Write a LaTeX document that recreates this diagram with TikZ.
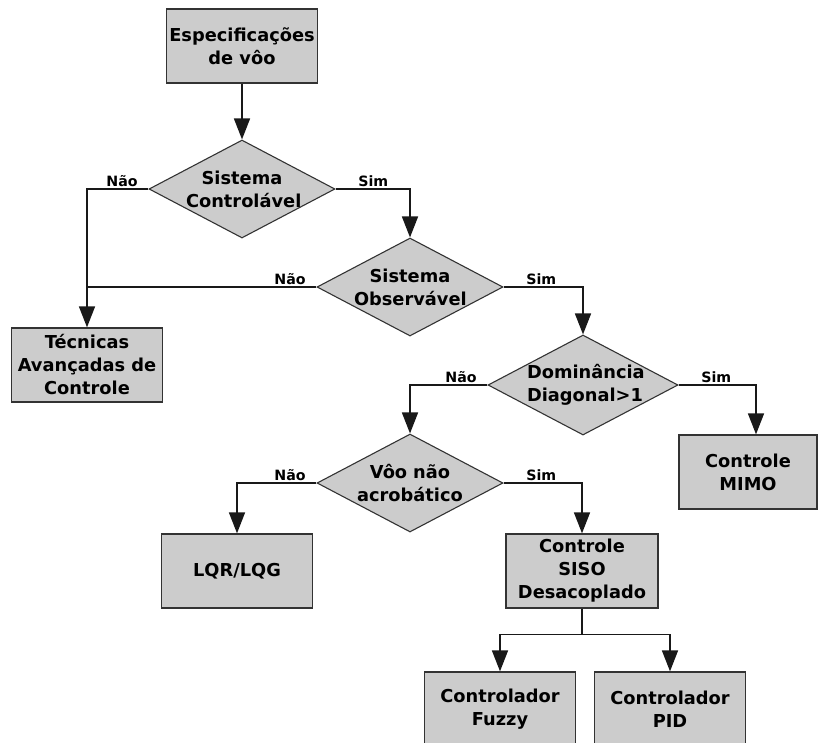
\documentclass[tikz,border=0pt]{standalone}
\usepackage{fontspec}
\setmainfont{DejaVu Sans}
\usetikzlibrary{shapes.geometric, arrows.meta, positioning}
\definecolor{boxgray}{RGB}{204,204,204}
\definecolor{edgegray}{RGB}{51,51,51}

\tikzset{
  block/.style={draw=edgegray, fill=boxgray, line width=1.3pt, rectangle,
    minimum width=151pt, minimum height=74pt, align=center, inner sep=2pt,
    font=\fontsize{17.8}{23}\selectfont\bfseries},
  decision/.style={draw=edgegray, fill=boxgray, line width=1.1pt, diamond,
    aspect=1.9, inner sep=0pt, text width=112pt, minimum width=186pt,
    minimum height=98pt, align=center,
    font=\fontsize{17.8}{23}\selectfont\bfseries},
  wire/.style={line width=1.6pt, draw=black!90},
  arr/.style={wire, -{Triangle[length=21pt,width=16pt]}},
  lbl/.style={font=\fontsize{14.2}{16}\selectfont\bfseries, inner sep=2pt},
  nao/.style={lbl, above left, xshift=-8pt},
  sim/.style={lbl, above right, xshift=20pt},
}

\begin{document}
\begin{tikzpicture}[x=1pt, y=-1pt]
  \useasboundingbox (0,0) rectangle (819,742);
  \clip (0,0) rectangle (819,742);

  % blocos
  \node[block] (esp) at (242,46) {Especificações\\de vôo};
  \node[block] (tec) at (87,365) {Técnicas\\Avançadas de\\Controle};
  \node[block, minimum width=138pt] (mimo) at (748,472) {Controle\\MIMO};
  \node[block] (lqr) at (237,571) {LQR/LQG};
  \node[block, minimum width=152pt] (siso) at (582,571) {Controle\\SISO\\Desacoplado};
  \node[block] (fuzzy) at (500,709) {Controlador\\Fuzzy};
  \node[block] (pid) at (670,709) {Controlador\\PID};

  % decisoes
  \node[decision] (ctrl) at (242,189) {Sistema\\Controlável};
  \node[decision] (obs) at (410,287) {Sistema\\Observável};
  \node[decision] (dom) at (583,385) {Dominância\\Diagonal>1};
  \node[decision] (acro) at (410,483) {Vôo não\\acrobático};

  % ligacoes
  \draw[arr] (esp) -- (ctrl);
  \draw[arr] (ctrl.west) node[nao] {Não} -| (tec.north);
  \draw[arr] (ctrl.east) node[sim] {Sim} -| (obs.north);
  \draw[wire] (obs.west) node[nao] {Não} -- (obs.west -| tec.north);
  \draw[arr] (obs.east) node[sim] {Sim} -| (dom.north);
  \draw[arr] (dom.west) node[nao] {Não} -| (acro.north);
  \draw[arr] (dom.east) node[sim] {Sim} -| ([xshift=8pt]mimo.north);
  \draw[arr] (acro.west) node[nao] {Não} -| (lqr.north);
  \draw[arr] (acro.east) node[sim] {Sim} -| (siso.north);

  \coordinate[below=26pt of siso.south] (split);
  \draw[wire] (siso.south) -- (split);
  \draw[arr] (split) -| (fuzzy.north);
  \draw[arr] (split) -| (pid.north);
\end{tikzpicture}
\end{document}
